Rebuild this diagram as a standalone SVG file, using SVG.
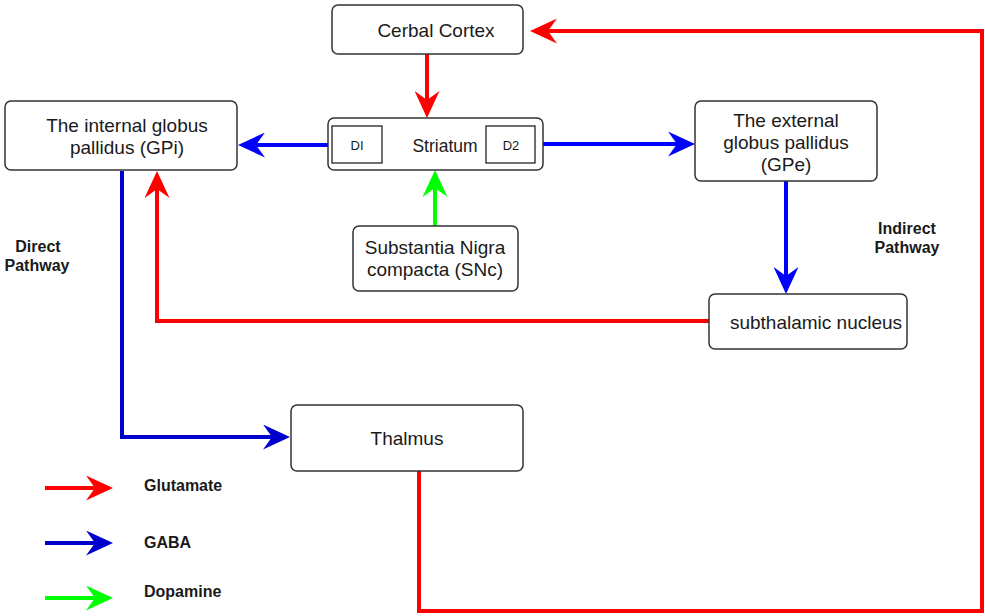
<svg xmlns="http://www.w3.org/2000/svg" width="985" height="616" viewBox="0 0 985 616">
  <style>
    .box { fill: #ffffff; stroke: #333333; stroke-width: 1.5; }
    .inner { fill: #ffffff; stroke: #222222; stroke-width: 1.3; }
    .lbl { font-family: "Liberation Sans", Arial, sans-serif; font-size: 19px; fill: #1a1a1a; text-anchor: middle; }
    .small { font-family: "Liberation Sans", Arial, sans-serif; font-size: 13px; fill: #1a1a1a; text-anchor: middle; }
    .bold { font-family: "Liberation Sans", Arial, sans-serif; font-size: 16px; font-weight: bold; fill: #1a1a1a; text-anchor: middle; }
    .leg { font-family: "Liberation Sans", Arial, sans-serif; font-size: 16px; font-weight: bold; fill: #1a1a1a; }
    .wire { fill: none; stroke-width: 4; stroke-linejoin: miter; }
    .glu { stroke: #ff0000; }
    .gaba { stroke: #0000ff; }
    .gaba2 { stroke: #0000cc; }
    .dopa { stroke: #00ff00; }
  </style>
  <defs>
    <marker id="arR" markerUnits="userSpaceOnUse" viewBox="0 0 27 25" refX="9" refY="12.5" markerWidth="27" markerHeight="25" orient="auto">
      <path d="M0,0 L27,12.5 L0,25 L9,12.5 Z" fill="#ff0000"/>
    </marker>
    <marker id="arB" markerUnits="userSpaceOnUse" viewBox="0 0 27 25" refX="9" refY="12.5" markerWidth="27" markerHeight="25" orient="auto">
      <path d="M0,0 L27,12.5 L0,25 L9,12.5 Z" fill="#0000ff"/>
    </marker>
    <marker id="arB2" markerUnits="userSpaceOnUse" viewBox="0 0 27 25" refX="9" refY="12.5" markerWidth="27" markerHeight="25" orient="auto">
      <path d="M0,0 L27,12.5 L0,25 L9,12.5 Z" fill="#0000cc"/>
    </marker>
    <marker id="arG" markerUnits="userSpaceOnUse" viewBox="0 0 27 25" refX="9" refY="12.5" markerWidth="27" markerHeight="25" orient="auto">
      <path d="M0,0 L27,12.5 L0,25 L9,12.5 Z" fill="#00ff00"/>
    </marker>
  </defs>

  <rect width="985" height="616" fill="#ffffff"/>

  <!-- connectors -->
  <g id="connectors">
    <path class="wire glu" d="M427,54 V100" marker-end="url(#arR)"/>
    <path class="wire gaba" d="M332,145 H256" marker-end="url(#arB)"/>
    <path class="wire gaba" d="M535,144 H677" marker-end="url(#arB)"/>
    <path class="wire dopa" d="M435,226 V188" marker-end="url(#arG)"/>
    <path class="wire gaba" d="M786,181 V276" marker-end="url(#arB)"/>
    <path class="wire glu" d="M709,321 H157 V189" marker-end="url(#arR)"/>
    <path class="wire gaba2" d="M122,171 V437 H272" marker-end="url(#arB2)"/>
    <path class="wire glu" d="M419,471 V611 H982 V31 H548" marker-end="url(#arR)"/>
  </g>

  <g id="cortex">
    <rect class="box" x="332" y="5" width="191" height="49" rx="6"/>
    <text class="lbl" x="436" y="37">Cerbal Cortex</text>
  </g>

  <g id="striatum">
    <rect class="box" x="328" y="118" width="215" height="52" rx="6"/>
    <rect class="inner" x="332" y="126" width="50" height="37"/>
    <rect class="inner" x="486" y="126" width="49" height="37"/>
    <text class="small" x="357" y="150">DI</text>
    <text class="small" x="511" y="150">D2</text>
    <text class="lbl" x="445" y="152" style="font-size:17.5px">Striatum</text>
  </g>

  <g id="gpi">
    <rect class="box" x="5" y="101" width="232" height="69" rx="6"/>
    <text class="lbl" x="127" y="132">The internal globus</text>
    <text class="lbl" x="127" y="154">pallidus (GPi)</text>
  </g>

  <g id="gpe">
    <rect class="box" x="695" y="101" width="182" height="80" rx="6"/>
    <text class="lbl" x="786" y="127">The external</text>
    <text class="lbl" x="786" y="149">globus pallidus</text>
    <text class="lbl" x="786" y="171">(GPe)</text>
  </g>

  <g id="snc">
    <rect class="box" x="353" y="226" width="165" height="65" rx="6"/>
    <text class="lbl" x="435" y="254">Substantia Nigra</text>
    <text class="lbl" x="435" y="276">compacta (SNc)</text>
  </g>

  <g id="stn">
    <rect class="box" x="709" y="294" width="198" height="55" rx="6"/>
    <text class="lbl" x="816" y="329">subthalamic nucleus</text>
  </g>

  <g id="thalamus">
    <rect class="box" x="291" y="405" width="232" height="66" rx="6"/>
    <text class="lbl" x="407" y="445">Thalmus</text>
  </g>

  <g id="pathway-labels">
    <text class="bold" x="38" y="252">Direct</text>
    <text class="bold" x="37" y="271">Pathway</text>
    <text class="bold" x="907" y="234">Indirect</text>
    <text class="bold" x="907" y="253">Pathway</text>
  </g>

  <g id="legend">
    <path class="wire glu" d="M45,488 H95" marker-end="url(#arR)"/>
    <path class="wire gaba2" d="M45,543 H95" marker-end="url(#arB2)"/>
    <path class="wire dopa" d="M45,598 H95" marker-end="url(#arG)"/>
    <text class="leg" x="144" y="491">Glutamate</text>
    <text class="leg" x="144" y="548">GABA</text>
    <text class="leg" x="144" y="597">Dopamine</text>
  </g>
</svg>
